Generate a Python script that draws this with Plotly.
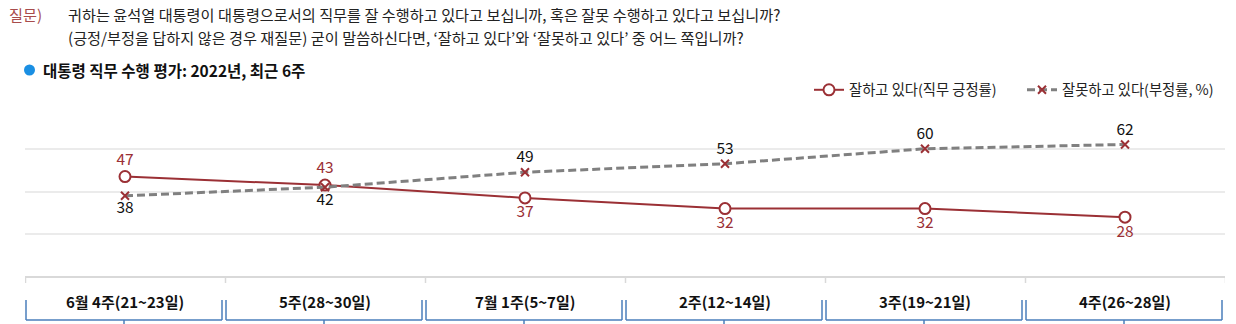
import plotly.graph_objects as go

weeks = ["6월 4주(21~23일)", "5주(28~30일)", "7월 1주(5~7일)", "2주(12~14일)", "3주(19~21일)", "4주(26~28일)"]
approve = [47, 43, 37, 32, 32, 28]
disapprove = [38, 42, 49, 53, 60, 62]
approve_pos = ["top center", "top center", "bottom center", "bottom center", "bottom center", "bottom center"]
disapprove_pos = ["bottom center", "bottom center", "top center", "top center", "top center", "top center"]

W, H = 1236, 324
L, R, T, B = 25, 11, 106, 47
PW, PH = W - L - R, H - T - B

def px_x(px):
    return (px - L) / PW

def px_y(py):
    return (H - B - py) / PH

RED = "#9B3035"
GRAY = "#808080"
BLUE = "#4A7EBB"
FONT = "Noto Sans CJK KR"

x_idx = list(range(len(weeks)))

fig = go.Figure()
fig.add_trace(go.Scatter(
    x=x_idx, y=approve, mode="lines+markers+text",
    name="잘하고 있다(직무 긍정률)",
    line=dict(color=RED, width=2),
    marker=dict(symbol="circle", size=11, color="white", line=dict(color=RED, width=2)),
    text=[str(v) for v in approve], textposition=approve_pos,
    textfont=dict(color=RED, size=15.5, family=FONT),
    cliponaxis=False,
))
fig.add_trace(go.Scatter(
    x=x_idx, y=disapprove, mode="lines+markers+text",
    name="잘못하고 있다(부정률, %)",
    line=dict(color=GRAY, width=3, dash="8px,4px"),
    marker=dict(symbol="x-thin", size=8, color=RED, line=dict(color=RED, width=2)),
    text=[str(v) for v in disapprove], textposition=disapprove_pos,
    textfont=dict(color="#111111", size=15.5, family=FONT),
    cliponaxis=False,
))

shapes = []
# category boxes
for i in x_idx:
    left = i - 0.5 + 1 / 200
    right = i + 0.5 - 3 / 200
    ytop = px_y(300)
    ybot = px_y(320)
    for (x0, y0, x1, y1) in [(left, ytop, left, ybot), (right, ytop, right, ybot), (left, ybot, right, ybot)]:
        shapes.append(dict(type="line", xref="x", yref="paper", x0=x0, y0=y0, x1=x1, y1=y1,
                           line=dict(color=BLUE, width=1.5)))
    shapes.append(dict(type="line", xref="x", yref="paper", x0=i - 0.005, x1=i - 0.005,
                       y0=ybot, y1=px_y(326), line=dict(color=BLUE, width=1.5)))
# heading dot
shapes.append(dict(type="circle", xref="paper", yref="paper",
                   x0=px_x(24), x1=px_x(35), y0=px_y(75.5), y1=px_y(64.5),
                   fillcolor="#1A8FE3", line=dict(width=0)))
# boundary ticks on top gray line
for b in [i - 0.5 for i in range(len(weeks) + 1)]:
    shapes.append(dict(type="line", xref="x", yref="paper", x0=b + 0.5 / 200, x1=b + 0.5 / 200,
                       y0=px_y(277), y1=px_y(283), line=dict(color="#D9D9D9", width=1.5)))

annotations = []
for i, w in enumerate(weeks):
    annotations.append(dict(x=i, y=px_y(301), xref="x", yref="paper", text="<b>%s</b>" % w,
                            showarrow=False, font=dict(size=15, color="#111111", family=FONT),
                            xanchor="center", yanchor="middle"))
annotations.append(dict(x=px_x(7), y=px_y(14), xref="paper", yref="paper", text="질문)",
                        showarrow=False, xanchor="left", yanchor="middle",
                        font=dict(size=15.2, color="#A84C4C", family=FONT)))
annotations.append(dict(x=px_x(66), y=px_y(14), xref="paper", yref="paper",
                        text="귀하는 윤석열 대통령이 대통령으로서의 직무를 잘 수행하고 있다고 보십니까, 혹은 잘못 수행하고 있다고 보십니까?",
                        showarrow=False, xanchor="left", yanchor="middle",
                        font=dict(size=15.2, color="#222222", family=FONT)))
annotations.append(dict(x=px_x(66), y=px_y(37), xref="paper", yref="paper",
                        text="(긍정/부정을 답하지 않은 경우 재질문) 굳이 말씀하신다면, ‘잘하고 있다’와 ‘잘못하고 있다’ 중 어느 쪽입니까?",
                        showarrow=False, xanchor="left", yanchor="middle",
                        font=dict(size=15.2, color="#222222", family=FONT)))
annotations.append(dict(x=px_x(41), y=px_y(70), xref="paper", yref="paper",
                        text="<b>대통령 직무 수행 평가: 2022년, 최근 6주</b>",
                        showarrow=False, xanchor="left", yanchor="middle",
                        font=dict(size=15.5, color="#111111", family=FONT)))

fig.update_layout(
    width=W, height=H,
    margin=dict(l=L, r=R, t=T, b=B, autoexpand=False),
    paper_bgcolor="white", plot_bgcolor="white",
    showlegend=True,
    legend=dict(orientation="h", x=px_x(1235), xanchor="right", y=px_y(90), yanchor="middle",
                font=dict(size=14.3, color="#222222", family=FONT),
                bgcolor="rgba(0,0,0,0)", entrywidth=168, entrywidthmode="pixels",
                tracegroupgap=0),
    xaxis=dict(type="linear", range=[-0.5, 5.5], showgrid=False, zeroline=False,
               showticklabels=False, showline=False, ticks="", fixedrange=True),
    yaxis=dict(range=[0, 80], dtick=20, showgrid=True, gridcolor="#EBEBEB", gridwidth=1.5,
               zeroline=True, zerolinecolor="#D9D9D9", zerolinewidth=1.5,
               showticklabels=False, ticks="", showline=False),
    shapes=shapes,
    annotations=annotations,
    font=dict(family=FONT),
)

fig.write_html("out.html")
